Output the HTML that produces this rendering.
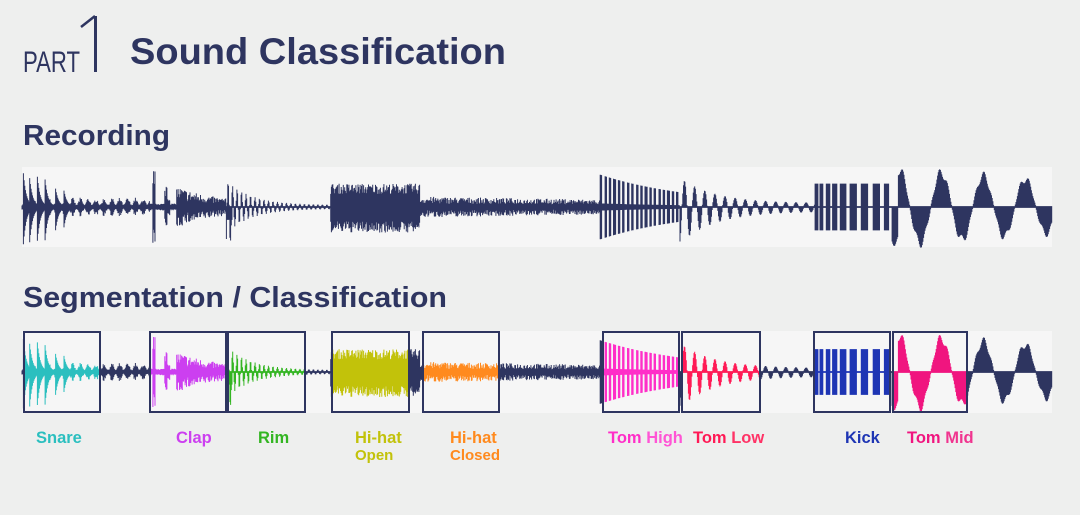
<!DOCTYPE html>
<html><head><meta charset="utf-8">
<style>
html,body{margin:0;padding:0;background:#eeefee;}
body{width:1080px;height:515px;overflow:hidden;position:relative;font-family:"Liberation Sans",sans-serif;}
svg{position:absolute;left:0;top:0;}
</style></head>
<body>
<svg id="s" width="1080" height="515" xmlns="http://www.w3.org/2000/svg">
<text x="23" y="72" font-size="30" fill="#2e3560" font-family="Liberation Sans Narrow, Liberation Sans, sans-serif" style="font-weight:300" textLength="57" lengthAdjust="spacingAndGlyphs">PART</text>
<rect x="94" y="16" width="3" height="56" fill="#2e3560"/>
<path d="M81 27 L95 16" stroke="#2e3560" stroke-width="2.5" fill="none"/>
<text x="130" y="64" font-size="37" font-weight="bold" fill="#2e3560" textLength="376" lengthAdjust="spacingAndGlyphs">Sound Classification</text>
<text x="23" y="145" font-size="29" font-weight="bold" fill="#2e3560" textLength="147" lengthAdjust="spacingAndGlyphs">Recording</text>
<text x="23" y="307" font-size="29" font-weight="bold" fill="#2e3560" textLength="424" lengthAdjust="spacingAndGlyphs">Segmentation / Classification</text>
<rect x="22" y="167" width="1030" height="80" fill="#f6f6f6"/>
<rect x="22" y="331" width="1030" height="82" fill="#f6f6f6"/>
<g id="w1"></g><g id="w2"></g><g id="boxes"></g>
<g font-size="16.5" font-weight="bold">
<text x="36" y="443" fill="#2bbfbf">Snare</text>
<text x="176" y="443" fill="#cc3ff0">Clap</text>
<text x="258" y="443" fill="#33b522">Rim</text>
<text x="355" y="443" fill="#c2c20a">Hi-hat</text>
<text x="355" y="460" fill="#c2c20a" font-size="15">Open</text>
<text x="450" y="443" fill="#ff8a1e">Hi-hat</text>
<text x="450" y="460" fill="#ff8a1e" font-size="15">Closed</text>
<text x="608" y="443" fill="#ff2ec8">Tom <tspan fill="#ff55d5">High</tspan></text>
<text x="693" y="443" fill="#ff1a55">Tom <tspan fill="#ff3366">Low</tspan></text>
<text x="845" y="443" fill="#1e35b4">Kick</text>
<text x="907" y="443" fill="#f0157f">Tom <tspan fill="#f0358f">Mid</tspan></text>
</g>
</svg>
<script>
var seed=7;function rnd(){seed=(seed*16807)%2147483647;return seed/2147483647;}
function exp(x){return Math.exp(x);}
function col(x){
  var r=rnd(), r2=rnd();
  if(x<150){
    var hits=[[23,38,42],[29,36,44],[37,34,38],[45,28,34],[55,22,28],[64,16,20]];
    var up=0,dn=0;
    hits.forEach(function(h){if(x>=h[0]){var e=exp(-(x-h[0])/3);up=Math.max(up,h[1]*e);dn=Math.max(dn,h[2]*e);}});
    var fl=7*(0.5+0.5*Math.sin(x*0.8))+2;
    up=Math.max(up,fl*(0.5+0.5*r));dn=Math.max(dn,fl*(0.5+0.5*r2));
    return [up,dn];
  }
  if(x<176){var a=3+ (Math.abs(x-154)<1.5?33:0)+(Math.abs(x-166)<1.5?14:0)+(x>166&&x<170?6:0);return [a*(0.6+0.4*r),a*(0.6+0.4*r2)];}
  if(x<226){var a=18*exp(-(x-176)/40)+3;return [a*(0.3+0.7*r),a*(0.3+0.7*r2)];}
  if(x<330){var a=24*exp(-(x-227)/25)+1;var v=Math.sin((x-227)*1.4);return [a*Math.max(0,v)+0.5,a*Math.max(0,-v)+0.5+ (x<232?12:0)];}
  if(x<420){var a=23;return [a*(0.55+0.45*r),a*1.1*(0.55+0.45*r2)];}
  if(x<600){var a=10-3*(x-420)/180;return [a*(0.3+0.7*r),a*(0.3+0.7*r2)];}
  if(x<680){var a=30*exp(-(x-600)/90)+2;var v=Math.sin((x-600)*1.4);var on=v>0?1:0.1;return [a*on,a*on];}
  if(x<815){var a=24*exp(-(x-682)/35)+3;var v=Math.sin((x-682)*0.62);return [a*Math.max(0,v)+0.5,a*1.25*Math.max(0,-v)+0.5];}
  if(x<892){var blocks=[[815,818],[820,823],[826,830],[832,837],[840,846],[850,857],[861,868],[873,880],[884,889]];var on=0;blocks.forEach(function(b){if(x>=b[0]&&x<b[1])on=1;});return on?[23,23]:[0.5,0.5];}
  var p=(x-892);var a=37-12*p/160;var v=Math.sin(p*2*Math.PI/42+Math.PI*0.15);if(x<898)v=-0.9;
  var wob=1+0.15*Math.sin(p*0.7);
  return [a*Math.max(0,v)*wob+0.5,a*Math.max(0,-v)*wob+0.5];
}
var data=[];for(var x=22;x<1052;x+=0.7){data.push([x,col(x)]);}
function draw(cy,scale){var d="";data.forEach(function(p){var u=p[1][0]*scale,dn=p[1][1]*scale;d+="M"+p[0].toFixed(1)+" "+(cy-u-0.4).toFixed(1)+"V"+(cy+dn+0.4).toFixed(1);});return d;}
var ns="http://www.w3.org/2000/svg";
function path(g,d,c,clip){var e=document.createElementNS(ns,"path");e.setAttribute("d",d);e.setAttribute("stroke",c);e.setAttribute("stroke-width","1");e.setAttribute("fill","none");if(clip)e.setAttribute("clip-path","url(#"+clip+")");g.appendChild(e);}
var d1=draw(207,1),d2=draw(372,0.98);
path(document.getElementById("w1"),d1,"#2e3560");
path(document.getElementById("w2"),d2,"#2e3560");
var boxes=[[23,101,"#2bbfbf"],[149,227,"#cc3ff0"],[227,306,"#33b522"],[331,410,"#c2c20a"],[422,500,"#ff8a1e"],[602,680,"#ff2ec8"],[681,761,"#ff1a55"],[813,891,"#1e35b4"],[892,968,"#f0157f"]];
var svg=document.getElementById("s");var defs=document.createElementNS(ns,"defs");svg.insertBefore(defs,svg.firstChild);
var bg=document.getElementById("boxes");
boxes.forEach(function(b,i){
  var cp=document.createElementNS(ns,"clipPath");cp.setAttribute("id","c"+i);
  var r=document.createElementNS(ns,"rect");r.setAttribute("x",b[0]);r.setAttribute("y",331);r.setAttribute("width",b[1]-b[0]);r.setAttribute("height",82);cp.appendChild(r);defs.appendChild(cp);
  var g=document.createElementNS(ns,"rect");g.setAttribute("x",b[0]);g.setAttribute("y",331);g.setAttribute("width",b[1]-b[0]);g.setAttribute("height",82);g.setAttribute("fill","#f6f6f6");document.getElementById("w2").appendChild(g);
  path(document.getElementById("w2"),d2,b[2],"c"+i);
  var bx=document.createElementNS(ns,"rect");bx.setAttribute("x",b[0]+1);bx.setAttribute("y",332);bx.setAttribute("width",b[1]-b[0]-2);bx.setAttribute("height",80);bx.setAttribute("fill","none");bx.setAttribute("stroke","#2e3560");bx.setAttribute("stroke-width","2");bg.appendChild(bx);
});
</script>
</body></html>
